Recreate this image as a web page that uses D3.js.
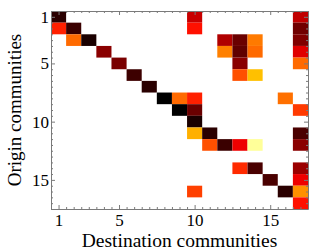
<!DOCTYPE html>
<html>
<head>
<meta charset="utf-8">
<script src="https://cdn.jsdelivr.net/npm/d3@7"></script>
<style>
  body { margin: 0; background: #fff; }
  svg { display: block; }
  text { font-family: "Liberation Serif", "DejaVu Serif", serif; fill: #000; }
  .axis path, .axis line { stroke: #7a7a7a; }
</style>
</head>
<body>
<svg id="chart" width="332" height="250"></svg>
<script>
// communities 1..17, heat level per (origin, destination) cell: 0 = black, 1 = white
const communities = d3.range(1, 18);
const majorTicks = [1, 5, 10, 15];
const origin = [1, 1, 1, 2, 2, 2, 2, 3, 3, 3, 3, 3, 3, 4, 4, 4, 4, 4, 5, 5, 5, 6, 6, 6, 7,
    8, 8, 8, 8, 9, 9, 9, 10, 11, 11, 11, 12, 12, 12, 12, 12, 14, 14, 14, 15, 15, 16, 16, 16, 17];
const destination = [1, 10, 17, 1, 2, 10, 17, 2, 3, 12, 13, 14, 17, 4, 12, 13, 14, 17, 5, 13, 17, 6, 13, 14, 7,
    8, 9, 10, 16, 9, 10, 17, 10, 10, 11, 17, 11, 12, 13, 14, 17, 13, 14, 17, 15, 17, 10, 16, 17, 17];
const level = [0.06, 0.286, 0.275, 0.413, 0.083, 0.389, 0.16, 0.523, 0.037, 0.252, 0.152, 0.547, 0.183,
    0.197, 0.556, 0.137, 0.523, 0.321, 0.175, 0.197, 0.523, 0.087, 0.485, 0.652, 0.06,
    0.0, 0.523, 0.413, 0.532, 0.0, 0.152, 0.452, 0.037, 0.628, 0.06, 0.106,
    0.485, 0.083, 0.341, 0.898, 0.197, 0.428, 0.106, 0.22, 0.106, 0.341, 0.46, 0.06, 0.58, 0.39];

const margin = {top: 11, right: 24, bottom: 41, left: 51};
const width = 332 - margin.left - margin.right;
const height = 250 - margin.top - margin.bottom;

const svg = d3.select('#chart');
const g = svg.append('g').attr('transform', `translate(${margin.left},${margin.top})`);

const x = d3.scaleLinear().domain([0.5, 17.5]).range([0, width]);
const y = d3.scaleLinear().domain([0.5, 17.5]).range([0, height]);

// "hot" colour map
const color = d3.scaleLinear()
    .domain([0, 0.365, 0.746, 1])
    .range(['#000000', '#ff0000', '#ffff00', '#ffffff']);

const cells = level.map((v, i) => ({o: origin[i], d: destination[i], v: v}));

g.selectAll('.cell')
    .data(cells)
    .enter().append('rect')
    .attr('class', 'cell')
    .attr('x', d => x(d.d - 0.5))
    .attr('y', d => y(d.o - 0.5))
    .attr('width', d => x(d.d + 0.5) - x(d.d - 0.5))
    .attr('height', d => y(d.o + 0.5) - y(d.o - 0.5))
    .attr('fill', d => color(d.v));

// minor ticks every half cell, major ticks on labelled values
const minor = d3.range(0.5, 17.51, 0.5);
const tickLen = v => majorTicks.includes(v) ? 4 : 2;

function frame(axis, transform, labels, pad) {
    const a = g.append('g').attr('class', 'axis').attr('transform', transform)
        .call(axis.tickValues(minor).tickSizeOuter(0).tickSizeInner(-2).tickPadding(pad)
            .tickFormat(v => labels && majorTicks.includes(v) ? v : ''));
    a.selectAll('.tick line').each(function (v) {
        const line = d3.select(this);
        const k = line.attr('x2') !== null && +line.attr('x2') !== 0 ? 'x2' : 'y2';
        line.attr(k, Math.sign(+line.attr(k)) * tickLen(v));
    });
    a.selectAll('text').style('font-size', '17px').style('font-family', '"Liberation Serif", serif');
    a.select('.domain').attr('stroke', '#7a7a7a');
    return a;
}

frame(d3.axisBottom(x), `translate(0,${height})`, true, 5);
frame(d3.axisTop(x), 'translate(0,0)', false, 4);
frame(d3.axisLeft(y), 'translate(0,0)', true, 2);
frame(d3.axisRight(y), `translate(${width},0)`, false, 4);

svg.append('text')
    .attr('x', margin.left + width / 2)
    .attr('y', 247)
    .attr('text-anchor', 'middle')
    .style('font-size', '19.5px')
    .text('Destination communities');

svg.append('text')
    .attr('transform', `translate(21,${margin.top + height / 2}) rotate(-90)`)
    .attr('text-anchor', 'middle')
    .style('font-size', '19px')
    .text('Origin communities');
</script>
</body>
</html>
